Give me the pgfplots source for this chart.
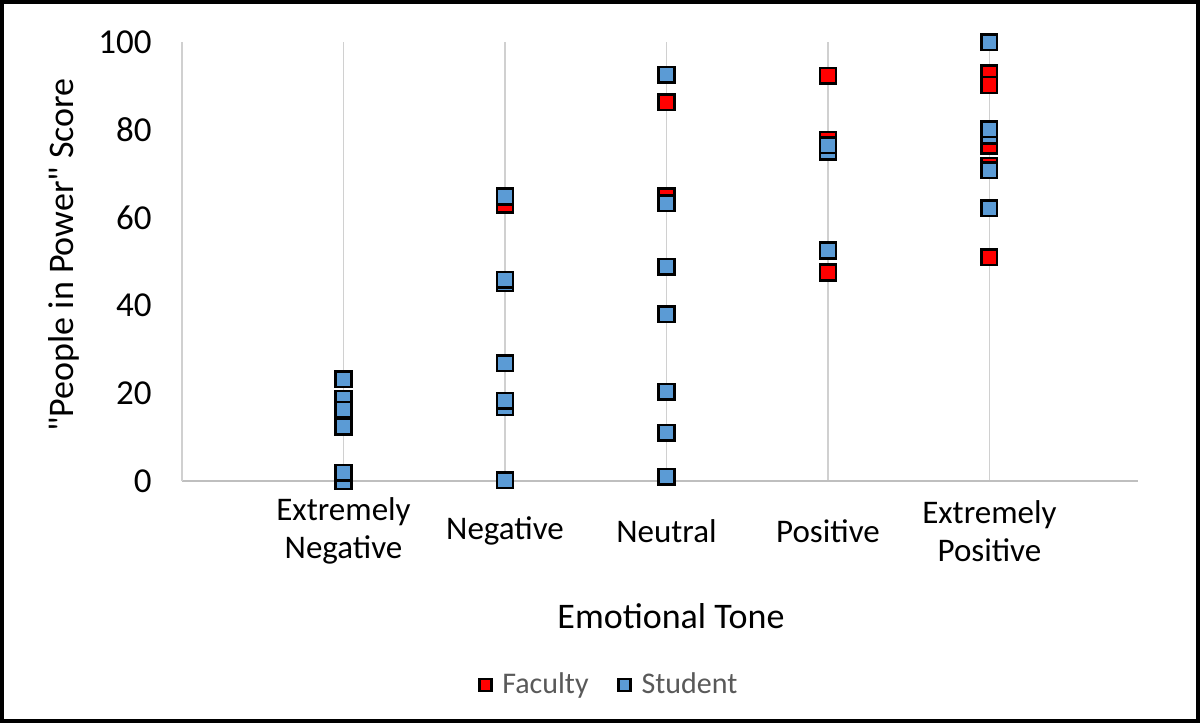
\documentclass[border=0pt]{standalone}
\usepackage{fontspec}
\setmainfont{Carlito}
\newfontfamily\plainfont{Carlito}[Ligatures=TeXOff]
\usepackage{pgfplots}
\pgfplotsset{compat=1.18}
\definecolor{fac}{HTML}{FF0000}
\definecolor{stu}{HTML}{5B9BD5}
\definecolor{gridc}{HTML}{D0D0D0}
\definecolor{axc}{HTML}{BFBFBF}
\definecolor{legt}{HTML}{595959}
\begin{document}
\begin{tikzpicture}
\useasboundingbox (0,0) rectangle (600pt,361.5pt);
\draw[line width=2pt] (1pt,1pt) rectangle (599pt,360.5pt);
\begin{axis}[
  at={(91pt,121pt)}, anchor=south west,
  scale only axis, width=478pt, height=219.5pt,
  xmin=0, xmax=5.92, ymin=0, ymax=100,
  axis lines=left, axis line style={-},
  x axis line style={draw=axc, line width=1.2pt},
  y axis line style={draw=gridc, line width=0.8pt},
  xtick={1,2,3,4,5},
  xticklabels={{Extremely\\Negative},Negative,Neutral,Positive,{Extremely\\Positive}},
  xticklabel style={align=center, anchor=center, inner sep=0pt, yshift=-25pt, font=\fontsize{16.5}{19}\selectfont},
  ytick={0,20,40,60,80,100},
  yticklabel style={anchor=east, inner sep=0pt, xshift=-15pt, font=\fontsize{17.5}{20}\selectfont},
  /pgf/number format/assume math mode=true,
  major tick length=0pt,
  xmajorgrids, grid style={draw=gridc, line width=0.8pt},
  clip=false,
  legend columns=2,
  legend style={at={(0.447,-0.4647)}, anchor=center, draw=none, fill=none,
    font=\fontsize{15}{18}\selectfont, text=legt,
    /tikz/every even column/.append style={column sep=12pt}},
  legend image code/.code={\draw[#1, mark size=3pt, line width=1pt] plot coordinates {(0pt,0pt)};
    \path[draw=none, fill=none] (-4pt,0pt) -- (6.5pt,0pt);},
]
\addplot[only marks, mark=square*, mark size=3.9pt, mark options={draw=black, line width=1.25pt, fill=fac}]
coordinates {
(2,62.9)
(3,64.8) (3,86.3)
(4,92.3) (4,77.7) (4,47.5)
(5,92.9) (5,90.2) (5,76.4) (5,71.8) (5,51.0)
};
\addlegendentry{Faculty}
\addplot[only marks, mark=square*, mark size=3.9pt, mark options={draw=black, line width=1.25pt, fill=stu}]
coordinates {
(1,0.0) (1,18.7) (1,16.2) (1,12.4) (1,1.9) (1,23.2)
(2,16.8) (2,18.3) (2,26.8) (2,45.1) (2,45.8) (2,64.8) (2,0.2)
(3,92.5) (3,63.3) (3,48.8) (3,38.0) (3,20.3) (3,11.0) (3,1.0)
(4,75.0) (4,76.5) (4,52.5)
(5,99.9) (5,78.7) (5,80.1) (5,70.8) (5,62.1)
};
\addlegendentry{Student}
\end{axis}
\node[rotate=90, font=\plainfont\fontsize{18}{21}\selectfont] at (32pt,234pt) {"People in Power" Score};
\node[anchor=base, font=\fontsize{18}{21}\selectfont] at (335.5pt,47pt) {Emotional Tone};
\end{tikzpicture}
\end{document}
